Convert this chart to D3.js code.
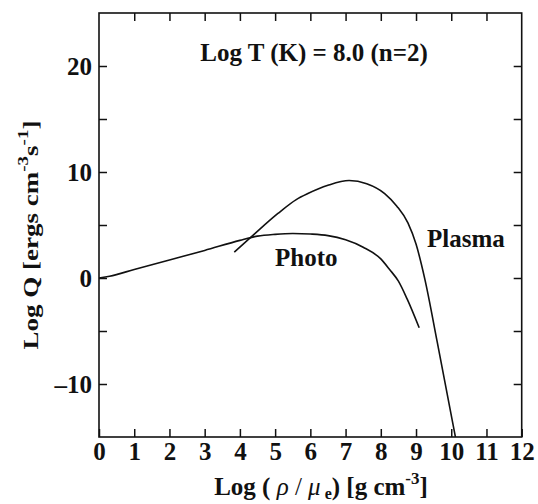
<!DOCTYPE html>
<html>
<head>
<meta charset="utf-8">
<script src="https://cdn.jsdelivr.net/npm/d3@7"></script>
<style>
  body { margin: 0; background: #fff; }
  svg text { font-family: "Liberation Serif", "Times New Roman", serif; font-weight: bold; fill: #111; }
</style>
</head>
<body>
<div id="chart"></div>
<script>
// Log(rho/mu_e) vs Log Q
const photoX = [0, 0.3, 1, 2, 3, 4, 4.5, 5, 5.5, 6, 6.5, 7, 7.5, 8, 8.25, 8.5, 8.75, 9.09];
const photoY = [0, 0.17, 0.8, 1.7, 2.6, 3.55, 3.95, 4.12, 4.2, 4.15, 4.0, 3.6, 2.9, 1.8, 0.8, -0.3, -2.0, -4.7];
const plasmaX = [3.84, 4.33, 5.08, 5.6, 5.93, 6.5, 7.1, 7.6, 8.11, 8.45, 8.77, 9.0, 9.25, 9.6, 10.13];
const plasmaY = [2.44, 3.9, 6.09, 7.4, 7.97, 8.75, 9.2, 8.9, 7.97, 6.8, 5.2, 3.2, -0.1, -6.0, -15.2];

const xTicks = d3.range(0, 13);
const yTicks = [-10, -5, 0, 5, 10, 15, 20];
const yLabels = [-10, 0, 10, 20];

const W = 538, H = 504;
const m = { left: 99, right: 538 - 521.7, top: 13, bottom: 504 - 437 };
const iw = W - m.left - m.right, ih = H - m.top - m.bottom;

const svg = d3.select("#chart").append("svg")
  .attr("width", W).attr("height", H);

const x = d3.scaleLinear().domain([0, 12]).range([0, iw]);
const y = d3.scaleLinear().domain([-15, 25]).range([ih, 0]);

const g = svg.append("g").attr("transform", "translate(" + m.left + "," + m.top + ")");

svg.append("defs").append("clipPath").attr("id", "clip")
  .append("rect").attr("width", iw).attr("height", ih);

/** axes, ticks pointing in */
const fmt = d => yLabels.includes(d) ? (d < 0 ? "\u2013" + Math.abs(d) : d) : "";

const axBottom = g.append("g").attr("transform", "translate(0," + ih + ")")
  .call(d3.axisBottom(x).tickValues(xTicks).tickSizeInner(-8).tickSizeOuter(0).tickPadding(5));
const axTop = g.append("g")
  .call(d3.axisTop(x).tickValues(xTicks.slice(1, -1)).tickSizeInner(-8).tickSizeOuter(0).tickFormat(""));
const axLeft = g.append("g")
  .call(d3.axisLeft(y).tickValues(yTicks).tickSizeInner(-8).tickSizeOuter(0).tickPadding(7).tickFormat(fmt));
const axRight = g.append("g").attr("transform", "translate(" + iw + ",0)")
  .call(d3.axisRight(y).tickValues(yTicks).tickSizeInner(-8).tickSizeOuter(0).tickFormat(""));

[axBottom, axTop, axLeft, axRight].forEach(a => {
  a.select(".domain").remove();
  a.selectAll(".tick line").attr("stroke", "#111").attr("stroke-width", 1.5);
  a.selectAll(".tick text").attr("font-size", 25).attr("fill", "#111")
    .style("font-family", "'Liberation Serif', serif").style("font-weight", "bold");
});
axLeft.selectAll(".tick text").attr("dy", "0.34em");

g.append("rect").attr("width", iw).attr("height", ih)
  .attr("fill", "none").attr("stroke", "#111").attr("stroke-width", 1.6);

/** curves */
const line = d3.line()
  .x(d => x(d[0])).y(d => y(d[1]))
  .curve(d3.curveMonotoneX);

const curves = g.append("g").attr("clip-path", "url(#clip)");
curves.append("path").datum(d3.zip(photoX, photoY))
  .attr("d", line).attr("fill", "none").attr("stroke", "#111").attr("stroke-width", 1.6);
curves.append("path").datum(d3.zip(plasmaX, plasmaY))
  .attr("d", line).attr("fill", "none").attr("stroke", "#111").attr("stroke-width", 1.6);

/** labels */
svg.append("text").attr("x", 314).attr("y", 61).attr("text-anchor", "middle")
  .attr("font-size", 25).text("Log T (K) = 8.0 (n=2)");

svg.append("text").attr("x", 275).attr("y", 266).attr("font-size", 25).text("Photo");
svg.append("text").attr("x", 427).attr("y", 247).attr("font-size", 25).text("Plasma");

// x title
const xt = svg.append("text").attr("x", 321).attr("y", 495).attr("text-anchor", "middle").attr("font-size", 25);
xt.append("tspan").text("Log ( ");
xt.append("tspan").attr("font-style", "italic").attr("font-weight", "normal").text("\u03c1");
xt.append("tspan").attr("font-weight", "normal").text(" / ");
xt.append("tspan").attr("font-style", "italic").attr("font-weight", "normal").text("\u03bc");
xt.append("tspan").attr("font-size", 16).attr("dy", 4).text(" e");
xt.append("tspan").attr("dy", -4).text(") [g cm");
xt.append("tspan").attr("font-size", 17).attr("dy", -11).text("-3");
xt.append("tspan").attr("dy", 11).text("]");

// y title (scan is a bit narrow across the letters)
const yt = svg.append("text").attr("transform", "translate(38,235) scale(0.8,1) rotate(-90)")
  .attr("text-anchor", "middle").attr("font-size", 27);
yt.append("tspan").text("Log Q [ergs cm");
yt.append("tspan").attr("font-size", 19).attr("dy", -12).text("-3");
yt.append("tspan").attr("dy", 12).text("s");
yt.append("tspan").attr("font-size", 19).attr("dy", -12).text("-1");
yt.append("tspan").attr("dy", 12).text("]");
</script>
</body>
</html>
